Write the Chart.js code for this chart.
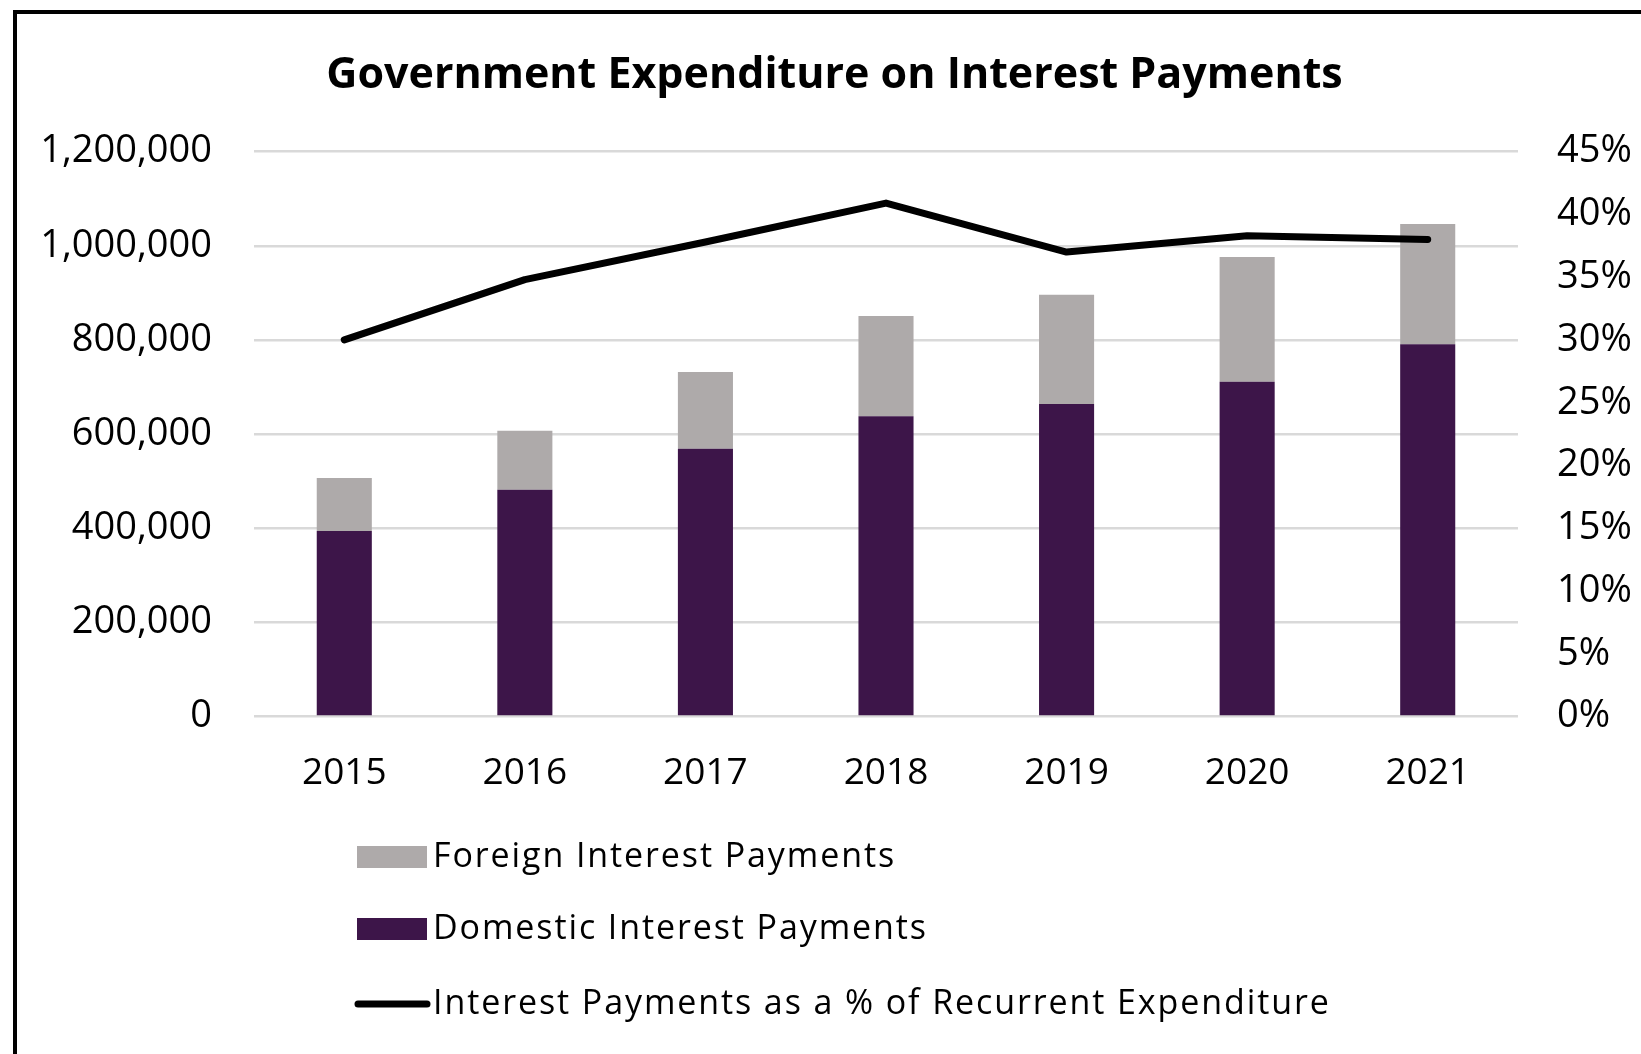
<!DOCTYPE html>
<html>
<head>
<meta charset="utf-8">
<title>Government Expenditure on Interest Payments</title>
<script src="https://cdn.jsdelivr.net/npm/chart.js@4.4.1/dist/chart.umd.min.js"></script>
<style>
    html, body { margin: 0; padding: 0; background: #fff; }
    #wrap { width: 1641px; height: 1054px; }
</style>
</head>
<body>
<div id="wrap"><canvas id="interest-chart" width="1641" height="1054"></canvas></div>
<script>
// Values
const years = ['2015', '2016', '2017', '2018', '2019', '2020', '2021'];
const domesticPayments = [394000, 482000, 569000, 638000, 664000, 711000, 791000];
const foreignPayments = [113000, 125000, 163000, 213000, 232000, 265000, 255000];
const shareOfRecurrent = [30.0, 34.8, 37.8, 40.9, 37.0, 38.3, 38.0];

const leftTicks = [0, 200000, 400000, 600000, 800000, 1000000, 1200000];
const rightTicks = [0, 5, 10, 15, 20, 25, 30, 35, 40, 45];

const DOMESTIC_COLOR = '#3d1549';
const FOREIGN_COLOR = '#aeaaaa';
const LINE_COLOR = '#000000';

Chart.defaults.font.family = "'Open Sans', 'DejaVu Sans', sans-serif";
Chart.defaults.color = '#000';

// Frame and the vertical legend (Excel style), drawn on the canvas
const frameAndLegend = {
    id: 'frameAndLegend',
    beforeDraw(chart) {
        const ctx = chart.ctx;
        ctx.save();
        ctx.fillStyle = '#fff';
        ctx.fillRect(0, 0, chart.width, chart.height);
        ctx.fillStyle = '#000';
        ctx.fillRect(13, 10, 4, chart.height - 10);
        ctx.fillRect(13, 10, chart.width - 13, 4);
        ctx.restore();
    },
    afterDraw(chart) {
        const ctx = chart.ctx;
        const ds = chart.data.datasets;
        const items = [ds[1], ds[0], ds[2]];
        const rows = [857, 929, 1004];
        ctx.save();
        ctx.font = "34px 'Open Sans'";
        ctx.letterSpacing = '1.9px';
        ctx.textBaseline = 'middle';
        items.forEach((item, i) => {
            const y = rows[i];
            if (item.type === 'line') {
                ctx.strokeStyle = item.borderColor;
                ctx.lineWidth = 7;
                ctx.lineCap = 'round';
                ctx.beginPath();
                ctx.moveTo(358, y);
                ctx.lineTo(427, y);
                ctx.stroke();
            } else {
                ctx.fillStyle = item.backgroundColor;
                ctx.fillRect(357, y - 11, 70, 22);
            }
            ctx.fillStyle = '#000';
            ctx.fillText(item.label, 433, y);
        });
        ctx.restore();
    }
};

const ctx = document.getElementById('interest-chart').getContext('2d');

new Chart(ctx, {
    data: {
        labels: years,
        datasets: [
            {
                type: 'bar',
                label: 'Domestic Interest Payments',
                data: domesticPayments,
                backgroundColor: DOMESTIC_COLOR,
                yAxisID: 'y',
                stack: 'payments',
                barPercentage: 0.305,
                categoryPercentage: 1.0,
                order: 2
            },
            {
                type: 'bar',
                label: 'Foreign Interest Payments',
                data: foreignPayments,
                backgroundColor: FOREIGN_COLOR,
                yAxisID: 'y',
                stack: 'payments',
                barPercentage: 0.305,
                categoryPercentage: 1.0,
                order: 2
            },
            {
                type: 'line',
                label: 'Interest Payments as a % of Recurrent Expenditure',
                data: shareOfRecurrent,
                borderColor: LINE_COLOR,
                backgroundColor: LINE_COLOR,
                borderWidth: 7,
                borderCapStyle: 'round',
                borderJoinStyle: 'round',
                pointRadius: 0,
                tension: 0,
                yAxisID: 'y1',
                order: 1
            }
        ]
    },
    options: {
        responsive: false,
        animation: false,
        layout: {
            padding: { left: 28, right: 0, top: 0, bottom: 231 }
        },
        plugins: {
            legend: { display: false },
            tooltip: { enabled: false },
            title: {
                display: true,
                text: 'Government Expenditure on Interest Payments',
                color: '#000',
                font: { size: 43, weight: 'bold' },
                padding: { top: 50, bottom: 50 }
            }
        },
        scales: {
            x: {
                stacked: true,
                grid: { display: false },
                border: { display: false },
                ticks: {
                    font: { size: 37 },
                    padding: 27
                }
            },
            y: {
                stacked: true,
                position: 'left',
                min: leftTicks[0],
                max: leftTicks[leftTicks.length - 1],
                afterBuildTicks(scale) {
                    scale.ticks = leftTicks.map(v => ({ value: v }));
                },
                afterFit(scale) {
                    scale.width = 226;
                },
                grid: {
                    color: '#d9d9d9',
                    lineWidth: 2.5,
                    drawTicks: false
                },
                border: { display: false },
                ticks: {
                    font: { size: 38 },
                    padding: 42,
                    callback: value => value.toLocaleString('en-US')
                }
            },
            y1: {
                position: 'right',
                min: rightTicks[0],
                max: rightTicks[rightTicks.length - 1],
                afterBuildTicks(scale) {
                    scale.ticks = rightTicks.map(v => ({ value: v }));
                },
                afterFit(scale) {
                    scale.width = 123;
                },
                grid: { display: false, drawTicks: false },
                border: { display: false },
                ticks: {
                    font: { size: 38 },
                    padding: 39,
                    callback: value => value + '%'
                }
            }
        }
    },
    plugins: [frameAndLegend]
});
</script>
</body>
</html>
